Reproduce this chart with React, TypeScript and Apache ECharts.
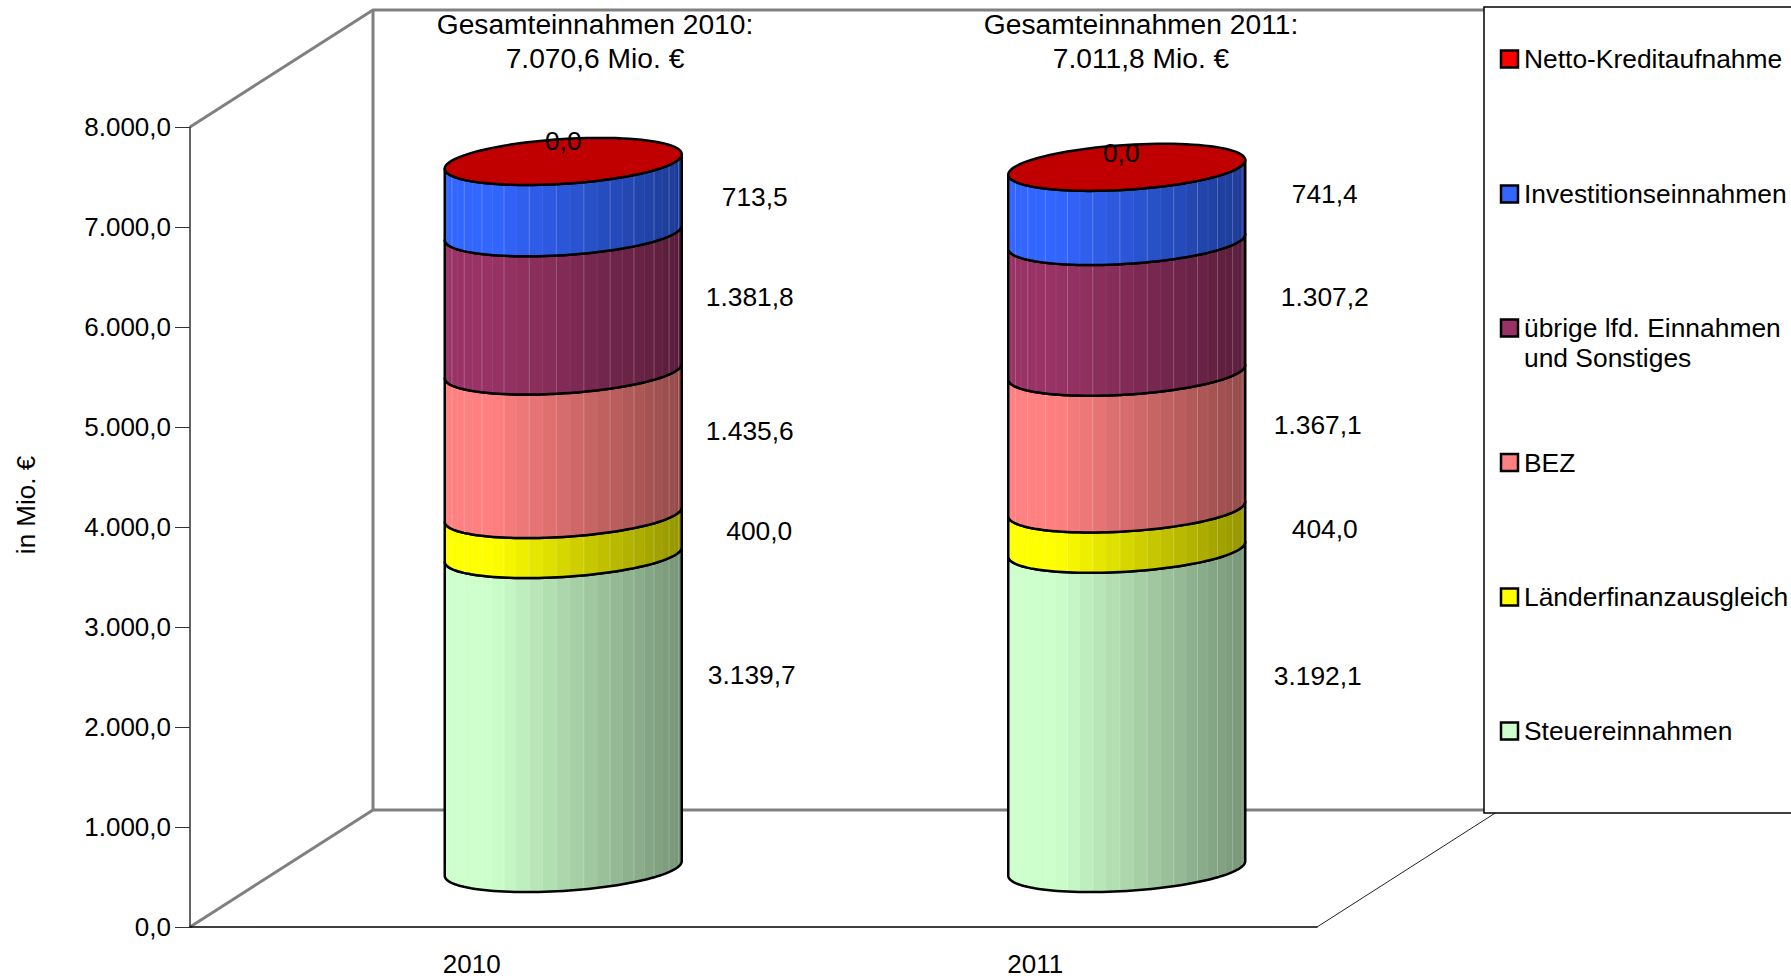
import React, { useEffect, useRef } from "react";
import * as echarts from "echarts";

const years = ["2010", "2011"];
const seriesNames = [
  "Steuereinnahmen",
  "Länderfinanzausgleich",
  "BEZ",
  "übrige lfd. Einnahmen\nund Sonstiges",
  "Investitionseinnahmen",
  "Netto-Kreditaufnahme",
];
const steuer = [3139.7, 3192.1];
const laender = [400.0, 404.0];
const bez = [1435.6, 1367.1];
const uebrige = [1381.8, 1307.2];
const invest = [713.5, 741.4];
const kredit = [0.0, 0.0];
const stackValues = [steuer, laender, bez, uebrige, invest, kredit];
const totals = ["7.070,6", "7.011,8"];
const yTicks = ["0,0", "1.000,0", "2.000,0", "3.000,0", "4.000,0", "5.000,0", "6.000,0", "7.000,0", "8.000,0"];

const colors = ["#ccffcc", "#ffff00", "#ff8080", "#993366", "#3366ff", "#ff0000"];
const topColor = "#c00000";

// layout
const X0 = 190, X1 = 1317, Y0 = 927, Y8 = 127;
const DX = 183, DY = -117;
const RX = 118.5, TILT = 7.3, RY = 22.4, FACETS = 27;
const FONT = "Liberation Sans";
const FS = 26;
const LFS = 26.4;
// label nudges from the cylinder centre / segment middle, per series then per year
const nudgeX = [[188.5, 191], [196, 198], [186.5, 191], [186.5, 198], [191.5, 198], [0, -5.5]];
const nudgeY = [[-37, -33], [-4, 0], [-12, -15.5], [-4.5, -9.5], [-0.5, -10], [-20, -14]];
const legendY = [731, 597, 462.5, 328, 194, 59];

const fmt = (v: number) => {
  const [i, d] = v.toFixed(1).split(".");
  return i.replace(/\B(?=(\d{3})+$)/g, ".") + "," + d;
};

function shade(hex: string, f: number) {
  const n = parseInt(hex.slice(1), 16);
  const c = [(n >> 16) & 255, (n >> 8) & 255, n & 255].map((v) => Math.round(v * f));
  return `rgb(${c[0]},${c[1]},${c[2]})`;
}
const brightness = (x: number) => (x < 0.2 ? 1 : 1 - 0.42 * (x - 0.2) / 0.8);

function facetGradient(color: string) {
  const stops: { offset: number; color: string }[] = [];
  for (let k = 0; k < FACETS; k++) {
    const a = (Math.cos(Math.PI - (k * Math.PI) / FACETS) + 1) / 2;
    const b = (Math.cos(Math.PI - ((k + 1) * Math.PI) / FACETS) + 1) / 2;
    const c = shade(color, brightness((a + b) / 2));
    stops.push({ offset: a, color: c }, { offset: b, color: c });
  }
  return new echarts.graphic.LinearGradient(0, 0, 1, 0, stops);
}

const rimPoint = (cx: number, cy: number, t: number) => [
  cx + RX * Math.cos(t),
  cy - TILT * Math.cos(t) + RY * Math.sin(t),
];

function makeRenderItem(si: number) {
  const gradient = facetGradient(colors[si]);
  return (params: any, api: any) => {
    const cat = api.value(0);
    const start = api.value(1);
    const end = api.value(2);
    const p0 = api.coord([cat, start]);
    const p1 = api.coord([cat, end]);
    const cx = p0[0] + DX / 2;
    const yLow = p0[1] + DY / 2;
    const yUp = p1[1] + DY / 2;
    const children: any[] = [];
    if (end > start) {
      const pts: number[][] = [];
      const n = 60;
      for (let i = 0; i <= n; i++) pts.push(rimPoint(cx, yLow, Math.PI - (i * Math.PI) / n));
      for (let i = 0; i <= n; i++) pts.push(rimPoint(cx, yUp, (i * Math.PI) / n));
      children.push({
        type: "polygon",
        shape: { points: pts },
        style: { fill: gradient, stroke: "none" },
      });
      for (let k = 1; k < FACETS; k++) {
        const t = Math.PI - (k * Math.PI) / FACETS;
        const a = rimPoint(cx, yLow, t);
        const b = rimPoint(cx, yUp, t);
        children.push({
          type: "line",
          shape: { x1: a[0], y1: a[1], x2: b[0], y2: b[1] },
          style: { stroke: "#ffffff", opacity: k % 2 ? 0.22 : 0.07, lineWidth: 1 },
        });
      }
      children.push({
        type: "polygon",
        shape: { points: pts },
        style: { fill: "none", stroke: "#000", lineWidth: 2.5, lineJoin: "round" },
      });
    }
    if (si === colors.length - 1) {
      const pts: number[][] = [];
      for (let i = 0; i < 96; i++) pts.push(rimPoint(cx, yUp, (i * 2 * Math.PI) / 96));
      children.push({
        type: "polygon",
        shape: { points: pts },
        style: { fill: topColor, stroke: "#000", lineWidth: 2.5 },
      });
    }
    children.push({
      type: "text",
      style: {
        x: cx + nudgeX[si][cat],
        y: (yLow + yUp) / 2 + nudgeY[si][cat],
        text: fmt(end - start),
        fill: "#000",
        fontFamily: FONT,
        fontSize: LFS,
        align: "center",
        verticalAlign: "middle",
      },
    });
    return { type: "group", children };
  };
}

function buildOption() {
  const running = years.map(() => 0);
  const series = stackValues.map((vals, si) => ({
    type: "custom",
    name: seriesNames[si],
    coordinateSystem: "cartesian2d",
    renderItem: makeRenderItem(si),
    encode: { x: 0, y: [1, 2] },
    z: 3 + si,
    silent: true,
    data: vals.map((v, c) => {
      const s = running[c];
      running[c] = s + v;
      return [c, s, s + v];
    }),
  }));

  const wall = { stroke: "#808080", lineWidth: 3, fill: "none" };
  const graphic: any[] = [
    {
      type: "polyline", z: 0,
      shape: { points: [[X0, Y8], [X0 + DX, Y8 + DY], [X1 + DX, Y8 + DY]] },
      style: wall,
    },
    {
      type: "polyline", z: 0,
      shape: { points: [[X0, Y0], [X0 + DX, Y0 + DY], [X1 + DX, Y0 + DY]] },
      style: wall,
    },
    {
      type: "line", z: 0,
      shape: { x1: X0 + DX, y1: Y8 + DY, x2: X0 + DX, y2: Y0 + DY },
      style: wall,
    },
    {
      type: "line", z: 0,
      shape: { x1: X1, y1: Y0, x2: X1 + DX, y2: Y0 + DY },
      style: { stroke: "#222", lineWidth: 1 },
    },
    {
      type: "text", z: 1, x: 26, y: 505, rotation: Math.PI / 2,
      style: {
        text: "in Mio. €", fontFamily: FONT, fontSize: 26, fill: "#000",
        align: "center", verticalAlign: "middle",
      },
    },
    {
      type: "rect", z: 20,
      shape: { x: 1484, y: 7, width: 340, height: 806 },
      style: { fill: "#fff", stroke: "#000", lineWidth: 1.5 },
    },
  ];
  years.forEach((y, i) => {
    graphic.push({
      type: "text", z: 19,
      x: i === 0 ? 595 : 1141, y: 41,
      style: {
        text: `Gesamteinnahmen ${y}:\n${totals[i]} Mio. €`,
        fontFamily: FONT, fontSize: 28.2, lineHeight: 34, fill: "#000",
        align: "center", verticalAlign: "middle",
      },
    });
  });
  seriesNames.forEach((name, si) => {
    graphic.push({
      type: "rect", z: 21,
      shape: { x: 1501, y: legendY[si] - 8.5, width: 17, height: 17 },
      style: { fill: colors[si], stroke: "#000", lineWidth: 2.5 },
    });
    const lines = name.split("\n").length;
    graphic.push({
      type: "text", z: 21, x: 1524, y: legendY[si] + (lines - 1) * 15,
      style: {
        text: name, fontFamily: FONT, fontSize: LFS, lineHeight: 30, fill: "#000",
        align: "left", verticalAlign: "middle",
      },
    });
  });

  return {
    animation: false,
    backgroundColor: "#fff",
    grid: { left: X0, right: 1791 - X1, top: Y8, bottom: 980 - Y0, containLabel: false },
    xAxis: {
      type: "category",
      data: years,
      axisLine: { lineStyle: { color: "#000", width: 1.5 } },
      axisTick: { length: 15, lineStyle: { color: "#333", width: 1 }, alignWithLabel: false },
      axisLabel: { color: "#000", fontFamily: FONT, fontSize: FS, margin: 24 },
      splitLine: { show: false },
    },
    yAxis: {
      type: "value",
      min: 0,
      max: 8000,
      interval: 1000,
      axisLine: { show: true, lineStyle: { color: "#333", width: 1.5 } },
      axisTick: { show: true, length: 15, lineStyle: { color: "#333", width: 1 } },
      axisLabel: {
        color: "#000", fontFamily: FONT, fontSize: FS, margin: 19, padding: [0, 0, 2, 0],
        formatter: (v: number) => yTicks[Math.round(v / 1000)],
      },
      splitLine: { show: false },
    },
    graphic: { elements: graphic },
    series,
  };
}

export default function App() {
  const ref = useRef<HTMLDivElement>(null);
  useEffect(() => {
    const chart = echarts.init(ref.current!, undefined, { renderer: "svg" });
    chart.setOption(buildOption() as any);
    return () => chart.dispose();
  }, []);
  return (
    <div
      ref={ref}
      style={{ position: "absolute", left: 0, top: 0, width: 1791, height: 980, overflow: "hidden" }}
    />
  );
}
